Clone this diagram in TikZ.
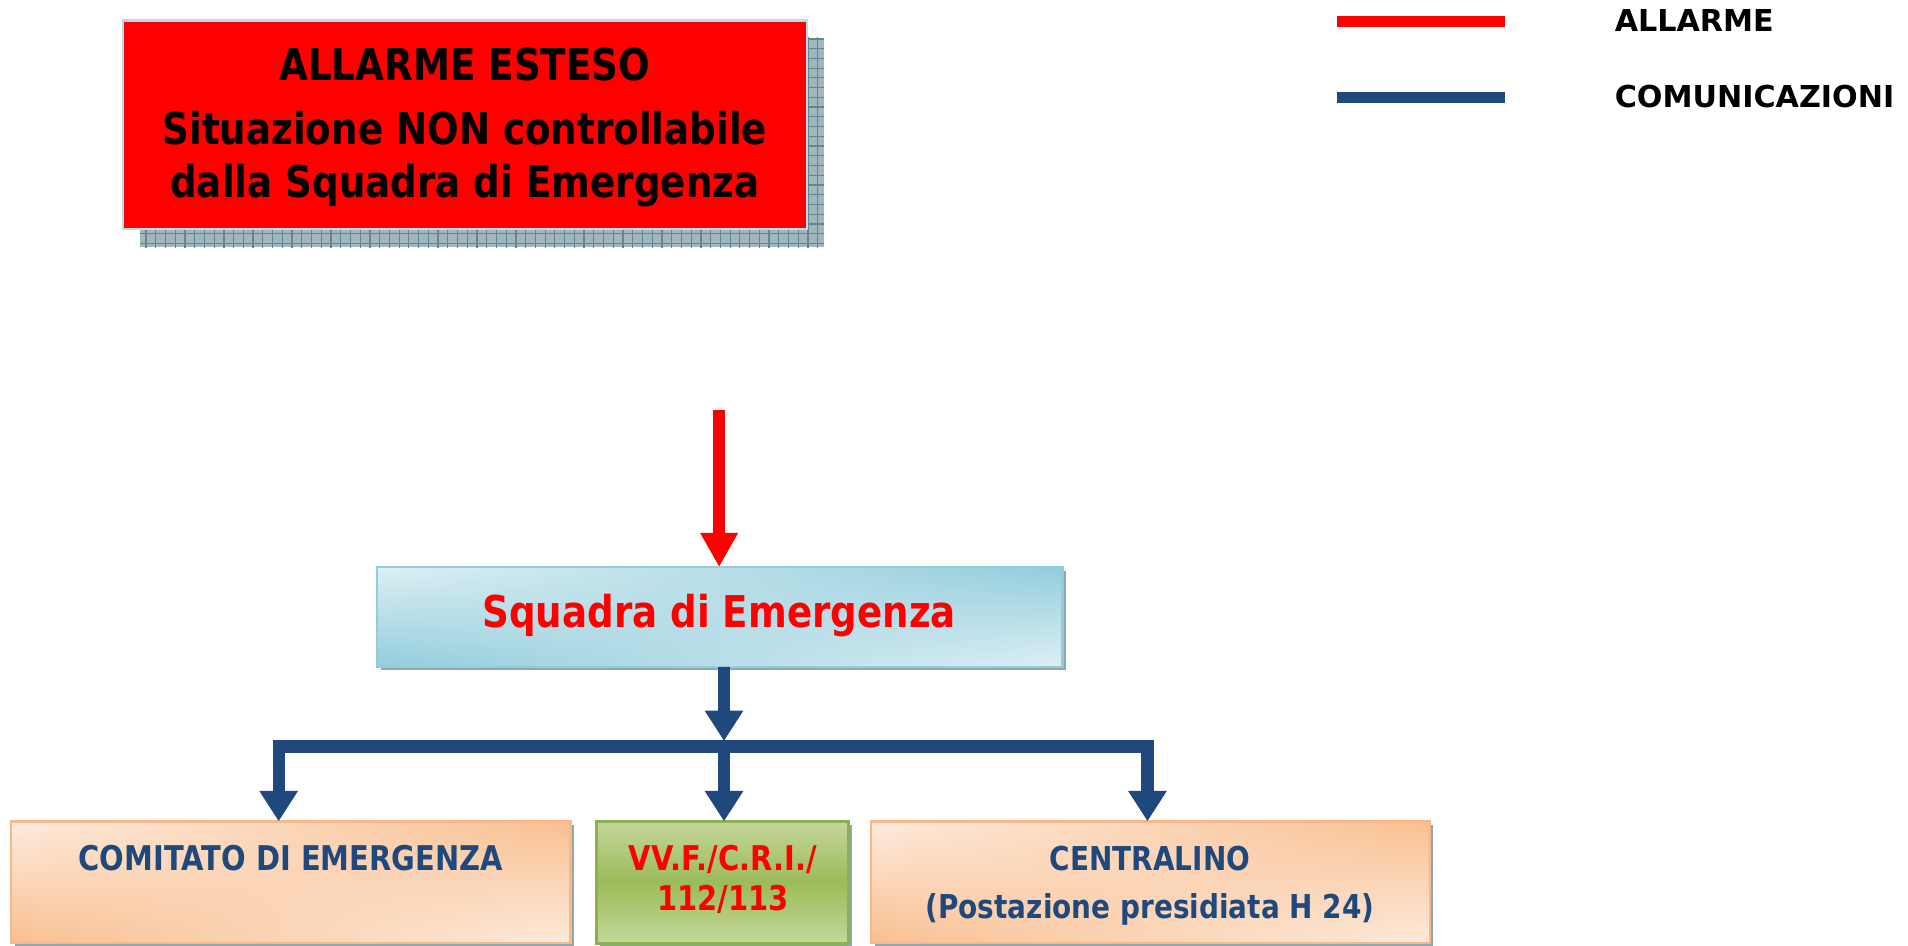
\documentclass[tikz,border=0pt]{standalone}
\usepackage{fontspec}
\setmainfont{DejaVu Sans}
\newfontfamily\nf{DejaVu Sans}[FakeStretch=0.85]
\usetikzlibrary{arrows.meta,fit,shadings}
\definecolor{alarmred}{HTML}{FF0000}
\definecolor{navy}{HTML}{1F497D}
\definecolor{boxborder}{HTML}{B7DEE8}
\definecolor{aquaD}{HTML}{92CDDC}
\definecolor{aquaL}{HTML}{DDEFF4}
\definecolor{aquaB}{HTML}{93CDDD}
\definecolor{orD}{HTML}{F9BF90}
\definecolor{orL}{HTML}{FDEBDD}
\definecolor{orB}{HTML}{F7B98A}
\definecolor{grD}{HTML}{9BBB59}
\definecolor{grL}{HTML}{C4D79B}
\definecolor{grB}{HTML}{8DB150}
\definecolor{shadowfill}{HTML}{A2B6BD}
\definecolor{shadowline}{HTML}{5F8893}
\definecolor{shadowthin}{HTML}{8FA7AE}
\newcommand\topfont{\nf\bfseries\fontsize{18}{21.6}\selectfont}
\newcommand\sqfont{\nf\bfseries\fontsize{18}{21.6}\selectfont}
\newcommand\boxfont{\nf\bfseries\fontsize{14}{16.8}\selectfont}
\newcommand\cefont{\nf\bfseries\fontsize{13.5}{16.2}\selectfont}
\newcommand\legfont{\bfseries\fontsize{12.4}{14.8}\selectfont}
\begin{document}
\begin{tikzpicture}[x=0.5pt,y=-0.5pt,
  frame/.style={inner sep=0pt, outer sep=0pt},
  txt/.style={inner sep=0pt, outer sep=0pt, anchor=base},
  alarmarrow/.style={alarmred, line width=5pt, -{Triangle[width=14.5pt,length=14pt]}},
  commline/.style={navy, line width=5pt},
  commarrow/.style={commline, -{Triangle[width=15pt,length=12.5pt]}},
  legline/.style={line width=4.5pt}]

\useasboundingbox (0,0) rectangle (1568,777);

% ---- legend
\coordinate (lr1) at (1099,18);
\coordinate (lr2) at (1237,18);
\coordinate (lb1) at (1099,80);
\coordinate (lb2) at (1237,80);
\draw[legline, alarmred] (lr1) -- (lr2);
\draw[legline, navy] (lb1) -- (lb2);
\node[txt, anchor=base west, font=\legfont] (legA) at (1327,26) {ALLARME};
\node[txt, anchor=base west, font=\legfont] (legC) at (1327,88) {COMUNICAZIONI};

% ---- top alarm box
\fill[shadowfill] (115,31) rectangle (677,203);
\begin{scope}
  \clip (115,31) rectangle (677,203);
  \draw[shadowline, line width=0.5pt, step=4pt] (110,26) grid (680,206);
\end{scope}
\node[frame, fit={(101,17) (663,188)}, fill=alarmred, draw=boxborder, line width=1pt] (alarmbox) {};
\node[txt, font=\topfont] (t1) at (382,66) {ALLARME ESTESO};
\node[txt, font=\topfont] (t2) at (382,119) {Situazione NON controllabile};
\node[txt, font=\topfont] (t3) at (382,162) {dalla Squadra di Emergenza};

% ---- Squadra box
\fill[shadowthin] (313,469) rectangle (876,551);
\node[frame, fit={(310,466) (873,548)}, draw=aquaB, line width=1pt,
      upper left=aquaL, upper right=aquaD, lower left=aquaD, lower right=aquaL] (sq) {};
\node[txt, font=\sqfont, text=alarmred] (sqt) at (591,516) {Squadra di Emergenza};

\coordinate (rstart) at (591,337);
\draw[alarmarrow] (rstart) -- (rstart |- sq.north);

% ---- bottom boxes
\fill[shadowthin] (12,678) rectangle (472,778);
\fill[shadowthin] (493,678) rectangle (700,778);
\fill[shadowthin] (719,678) rectangle (1178,778);
\node[frame, fit={(9,675) (469,775)}, draw=orB, line width=1pt,
      upper left=orL, upper right=orD, lower left=orD, lower right=orL] (cm) {};
\node[frame, fit={(490,675) (697,775)}, draw=grB, line width=1.2pt,
      top color=grL, bottom color=grL, middle color=grD] (vv) {};
\node[frame, fit={(716,675) (1175,775)}, draw=orB, line width=1pt,
      upper left=orL, upper right=orD, lower left=orD, lower right=orL] (ce) {};

\node[txt, font=\boxfont, text=navy] (cmt) at (239,715) {COMITATO DI EMERGENZA};
\node[txt, font=\boxfont, text=alarmred] (vvt1) at (594,715) {VV.F./C.R.I./};
\node[txt, font=\boxfont, text=alarmred] (vvt2) at (594,748) {112/113};
\node[txt, font=\cefont, text=navy] (cet1) at (945,715) {CENTRALINO};
\node[txt, font=\cefont, text=navy] (cet2) at (945,755) {(Postazione presidiata H 24)};

% ---- communication connectors
\coordinate (j) at (595,613.5);
\coordinate (jl) at (229,613.5);
\coordinate (jr) at (943,613.5);
\draw[commarrow, shorten >=2.25pt] (sq.south -| j) -- (j);
\draw[commarrow] (j) -| (cm.north -| jl);
\draw[commarrow] (j) -- (vv.north -| j);
\draw[commarrow] (j) -| (ce.north -| jr);
\end{tikzpicture}
\end{document}
